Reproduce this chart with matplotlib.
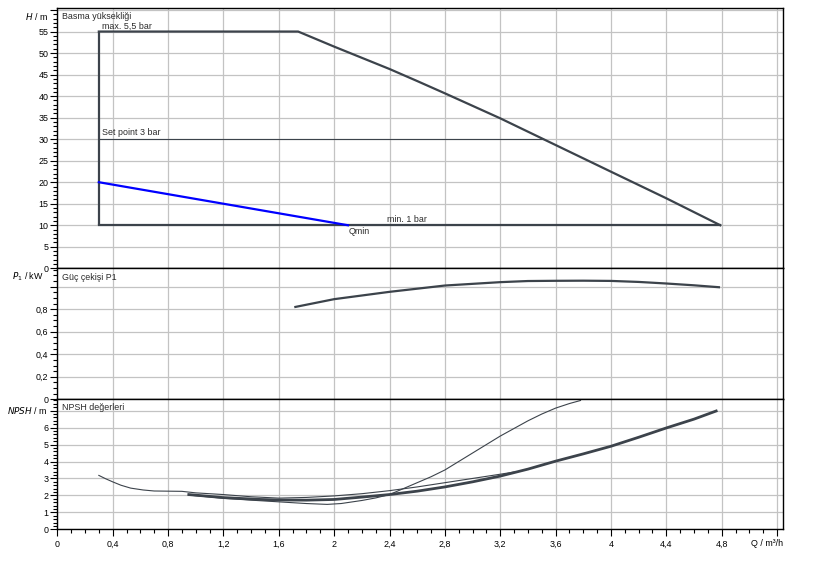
import numpy as np
import matplotlib
matplotlib.use('Agg')
import matplotlib.pyplot as plt
from matplotlib.ticker import MultipleLocator

plt.rcParams['font.family'] = ['Liberation Sans', 'DejaVu Sans']

# ---------------- data ----------------
q_ticks = [0, 0.4, 0.8, 1.2, 1.6, 2.0, 2.4, 2.8, 3.2, 3.6, 4.0, 4.4, 4.8, 5.2]
q_tick_labels = ['0', '0,4', '0,8', '1,2', '1,6', '2', '2,4', '2,8', '3,2', '3,6', '4', '4,4', '4,8', '']

h_ticks = [0, 5, 10, 15, 20, 25, 30, 35, 40, 45, 50, 55, 60]
h_tick_labels = ['0', '5', '10', '15', '20', '25', '30', '35', '40', '45', '50', '55', '']
p_ticks = [0, 0.2, 0.4, 0.6, 0.8, 1.0]
p_tick_labels = ['0', '0,2', '0,4', '0,6', '0,8', '']
n_ticks = [0, 1, 2, 3, 4, 5, 6, 7]
n_tick_labels = ['0', '1', '2', '3', '4', '5', '6', '']

# head field limits
q_min_op = 0.3          # left boundary of operating field
h_max = 55              # max. 5,5 bar
h_set = 30              # set point 3 bar
h_min = 10              # min. 1 bar
# max curve (55 m plateau then falling)
q_hmax = [0.3, 1.74, 2.0, 2.2, 2.4, 2.6, 2.8, 3.2, 3.6, 4.0, 4.4, 4.79]
h_hmax = [55, 55, 51.5, 48.9, 46.3, 43.5, 40.65, 34.84, 28.64, 22.44, 16.26, 10]
# Qmin line (blue)
q_qmin = [0.3, 2.1]
h_qmin = [20, 10]

# power P1
q_p = [1.72, 2.0, 2.4, 2.8, 3.2, 3.4, 3.6, 3.8, 4.0, 4.2, 4.4, 4.6, 4.78]
p_p = [0.82, 0.889, 0.954, 1.01, 1.04, 1.05, 1.052, 1.053, 1.051, 1.042, 1.028, 1.012, 0.995]

# NPSH curves
q_npsh_main = [0.95, 1.2, 1.47, 1.6, 1.8, 2.0, 2.2, 2.4, 2.6, 2.8, 3.0, 3.2, 3.4, 3.6, 3.8, 4.0, 4.2, 4.4, 4.6, 4.76]
n_npsh_main = [2.05, 1.87, 1.76, 1.73, 1.72, 1.76, 1.9, 2.05, 2.25, 2.5, 2.8, 3.14, 3.55, 4.02, 4.45, 4.9, 5.43, 5.98, 6.5, 6.98]
q_npsh_a = [0.3, 0.35, 0.4, 0.46, 0.53, 0.62, 0.7, 0.9, 1.0, 1.2, 1.4, 1.6, 1.8, 2.0, 2.2, 2.4, 2.6, 2.8, 3.0, 3.2, 3.3]
n_npsh_a = [3.18, 2.98, 2.8, 2.6, 2.43, 2.32, 2.26, 2.24, 2.15, 2.05, 1.92, 1.84, 1.88, 1.97, 2.1, 2.28, 2.5, 2.75, 3.0, 3.25, 3.38]
q_npsh_c = [0.95, 1.2, 1.4, 1.6, 1.8, 1.95, 2.05, 2.2, 2.3, 2.4, 2.5, 2.6, 2.7, 2.8, 2.9, 3.0, 3.1, 3.2, 3.3, 3.4, 3.5, 3.6, 3.7, 3.78]
n_npsh_c = [2.02, 1.83, 1.72, 1.62, 1.52, 1.47, 1.52, 1.7, 1.85, 2.05, 2.4, 2.75, 3.1, 3.5, 4.0, 4.5, 5.0, 5.5, 5.95, 6.4, 6.8, 7.15, 7.42, 7.6]

# ---------------- styling ----------------
W, H = 817, 561
DARK = '#3c434b'
GRID = '#c3c3c3'
TXT = '#2a2a2a'
FS = 6.4

fig = plt.figure(figsize=(W / 100, H / 100), dpi=100)


def px_rect(x0, y0, x1, y1):
    return [x0 / W, 1 - y1 / H, (x1 - x0) / W, (y1 - y0) / H]


XL, XR = 57.3, 783.3
ax1 = fig.add_axes(px_rect(XL, 8.3, XR, 268.3))
ax2 = fig.add_axes(px_rect(XL, 268.3, XR, 399.3))
ax3 = fig.add_axes(px_rect(XL, 399.3, XR, 529.3))

for ax in (ax1, ax2, ax3):
    ax.set_xlim(0, 5.245)
    ax.set_xticks(q_ticks)
    ax.xaxis.set_minor_locator(MultipleLocator(0.1))
    ax.set_axisbelow(True)
    ax.grid(True, which='major', color=GRID, linewidth=0.9)
    for s in ax.spines.values():
        s.set_color('black')
        s.set_linewidth(1.0)
    ax.tick_params(axis='y', which='major', direction='out', length=5.2, width=0.8,
                   pad=1.2, labelsize=FS, colors='black')
    ax.tick_params(axis='y', which='minor', direction='out', length=2.9, width=0.8, colors='black')
    ax.set_facecolor('white')

for ax in (ax1, ax2):
    ax.tick_params(axis='x', which='both', length=0, labelbottom=False)

ax3.set_xticklabels(q_tick_labels)
ax3.tick_params(axis='x', which='major', direction='out', length=5, width=0.8, pad=2.6,
                labelsize=FS, colors='black')
ax3.tick_params(axis='x', which='minor', direction='out', length=2.9, width=0.8, colors='black')

# ---- head panel ----
ax1.set_ylim(0, 60.4)
ax1.set_yticks(h_ticks)
ax1.set_yticklabels(h_tick_labels)
ax1.yaxis.set_minor_locator(MultipleLocator(1))

q_set_end = float(np.interp(h_set, h_hmax[::-1], q_hmax[::-1]))
ax1.plot([q_min_op, q_min_op], [h_min, h_max], color=DARK, lw=1.6, solid_capstyle='butt')
ax1.plot(q_hmax, h_hmax, color=DARK, lw=1.6)
ax1.plot([q_min_op, q_hmax[-1]], [h_min, h_min], color=DARK, lw=1.6)
ax1.plot([q_min_op, q_set_end], [h_set, h_set], color=DARK, lw=0.8)
ax1.plot(q_qmin, h_qmin, color='#0000ff', lw=1.6)

ax1.text(0.006, 0.985, 'Basma yüksekliği', transform=ax1.transAxes, ha='left', va='top',
         fontsize=FS, color=TXT)
ax1.text(0.322, 55.2, 'max. 5,5 bar', ha='left', va='bottom', fontsize=FS, color=TXT)
ax1.text(0.322, 30.4, 'Set point 3 bar', ha='left', va='bottom', fontsize=FS, color=TXT)
ax1.text(2.38, 10.4, 'min. 1 bar', ha='left', va='bottom', fontsize=FS, color=TXT)
ax1.text(2.105, 9.6, 'Qmin', ha='left', va='top', fontsize=FS, color=TXT)

# ---- power panel ----
ax2.set_ylim(0, 1.163)
ax2.set_yticks(p_ticks)
ax2.set_yticklabels(p_tick_labels)
ax2.yaxis.set_minor_locator(MultipleLocator(0.05))
ax2.plot(q_p, p_p, color=DARK, lw=1.6)
ax2.text(0.006, 0.965, 'Güç çekişi P1', transform=ax2.transAxes, ha='left', va='top',
         fontsize=FS, color=TXT)

# ---- NPSH panel ----
ax3.set_ylim(0, 7.67)
ax3.set_yticks(n_ticks)
ax3.set_yticklabels(n_tick_labels)
ax3.yaxis.set_minor_locator(MultipleLocator(0.2))
ax3.plot(q_npsh_a, n_npsh_a, color=DARK, lw=0.8)
ax3.plot(q_npsh_c, n_npsh_c, color=DARK, lw=0.8)
ax3.plot(q_npsh_main, n_npsh_main, color=DARK, lw=2.0)
ax3.text(0.006, 0.975, 'NPSH değerleri', transform=ax3.transAxes, ha='left', va='top',
         fontsize=FS, color=TXT)

# ---- axis labels ----
fig.text(48.3 / W, 1 - 16.3 / H, r'$\it{H}$ / m', ha='right', va='center', fontsize=FS, color='black')
fig.text(44.0 / W, 1 - 277 / H, r'$\it{P}_{1}$ / kW', ha='right', va='center', fontsize=FS, color='black')
fig.text(48.0 / W, 1 - 411 / H, r'$\it{NPSH}$ / m', ha='right', va='center', fontsize=FS, color='black')
fig.text(XR / W, 1 - 543.5 / H, 'Q / m³/h', ha='right', va='center', fontsize=FS, color='black')

fig.savefig('out.png', dpi=100)
